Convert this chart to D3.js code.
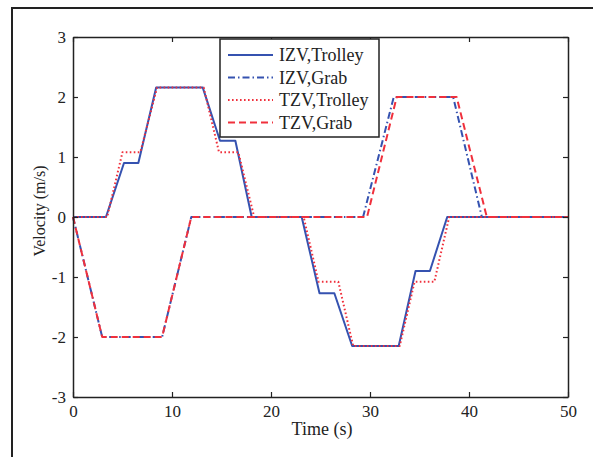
<!DOCTYPE html>
<html>
<head>
<meta charset="utf-8">
<script src="https://cdn.jsdelivr.net/npm/d3@7"></script>
<style>
  html, body { margin: 0; padding: 0; background: #fff; }
  svg { display: block; }
  text { font-family: "Liberation Serif", "Times New Roman", serif; fill: #222; }
</style>
</head>
<body>
<svg id="chart" width="593" height="457"></svg>
<script>
// Velocity profiles (time in s, velocity in m/s)
const izvTrolleyT = [0, 3.33, 5.15, 6.6, 8.4, 13.1, 14.85, 16.4, 18.05, 23.1, 24.9, 26.4, 28.2, 32.9, 34.6, 36.05, 37.8, 50];
const izvTrolleyV = [0, 0, 0.9, 0.9, 2.16, 2.16, 1.27, 1.27, 0, 0, -1.27, -1.27, -2.15, -2.15, -0.9, -0.9, 0, 0];

const izvGrabT = [0, 2.95, 9.0, 11.95, 29.3, 32.4, 38.4, 41.3, 50];
const izvGrabV = [0, -2, -2, 0, 0, 2, 2, 0, 0];

const tzvTrolleyT = [0, 3.45, 5.0, 6.8, 8.5, 13.2, 14.75, 16.7, 18.3, 23.3, 24.8, 26.8, 28.3, 33.0, 34.5, 36.5, 38.0, 50];
const tzvTrolleyV = [0, 0, 1.08, 1.08, 2.16, 2.16, 1.08, 1.08, 0, 0, -1.08, -1.08, -2.15, -2.15, -1.08, -1.08, 0, 0];

const tzvGrabT = [0, 2.95, 9.0, 11.95, 29.7, 32.7, 38.75, 41.8, 50];
const tzvGrabV = [0, -2, -2, 0, 0, 2, 2, 0, 0];

const seriesNames = ["IZV,Trolley", "IZV,Grab", "TZV,Trolley", "TZV,Grab"];
const xTicks = [0, 10, 20, 30, 40, 50];
const yTicks = [-3, -2, -1, 0, 1, 2, 3];

const blue = "#3552b0";
const red = "#f0303c";
const styles = [
  { color: blue, dash: null },
  { color: blue, dash: "7,3,1.5,3" },
  { color: red, dash: "1.6,2.4" },
  { color: red, dash: "7,4" }
];

const series = [
  [izvTrolleyT, izvTrolleyV],
  [izvGrabT, izvGrabV],
  [tzvTrolleyT, tzvTrolleyV],
  [tzvGrabT, tzvGrabV]
].map(([t, v], i) => ({ name: seriesNames[i], pts: t.map((x, j) => [x, v[j]]), style: styles[i] }));

const svg = d3.select("#chart");
const L = 73, R = 568, T = 37, B = 397;

const x = d3.scaleLinear().domain([0, 50]).range([L, R]);
const y = d3.scaleLinear().domain([-3, 3]).range([B, T]);

// plain hyphen for negative tick labels
const fmt = d => String(d);

// figure frame
svg.append("rect")
  .attr("x", 12).attr("y", 8).attr("width", 620).attr("height", 480)
  .attr("fill", "none").attr("stroke", "#222").attr("stroke-width", 2);

// curves
const line = d3.line().x(d => x(d[0])).y(d => y(d[1]));
const plot = svg.append("g");
series.forEach(s => {
  plot.append("path")
    .attr("d", line(s.pts))
    .attr("fill", "none")
    .attr("stroke", s.style.color)
    .attr("stroke-width", 2)
    .attr("stroke-linejoin", "round")
    .attr("stroke-dasharray", s.style.dash);
});

// axes (ticks inward, box on all four sides)
const axisStyle = g => {
  g.select(".domain").attr("stroke", "#222").attr("stroke-width", 1.5);
  g.selectAll(".tick line").attr("stroke", "#222").attr("stroke-width", 1.2);
  g.selectAll("text").attr("font-family", "Liberation Serif").attr("font-size", 17).attr("fill", "#222");
};

svg.append("g").attr("transform", `translate(0,${B})`)
  .call(d3.axisBottom(x).tickValues(xTicks).tickFormat(fmt).tickSizeInner(-5).tickSizeOuter(0).tickPadding(8))
  .call(axisStyle);
svg.append("g").attr("transform", `translate(0,${T})`)
  .call(d3.axisTop(x).tickValues(xTicks).tickFormat("").tickSizeInner(-5).tickSizeOuter(0))
  .call(axisStyle);
svg.append("g").attr("transform", `translate(${L},0)`)
  .call(d3.axisLeft(y).tickValues(yTicks).tickFormat(fmt).tickSizeInner(-5).tickSizeOuter(0).tickPadding(7))
  .call(axisStyle);
svg.append("g").attr("transform", `translate(${R},0)`)
  .call(d3.axisRight(y).tickValues(yTicks).tickFormat("").tickSizeInner(-5).tickSizeOuter(0))
  .call(axisStyle);

// axis labels
svg.append("text")
  .attr("x", 322).attr("y", 435)
  .attr("text-anchor", "middle").attr("font-size", 18)
  .text("Time (s)");
svg.append("text")
  .attr("transform", `translate(45,${(T + B) / 2 - 6}) rotate(-90)`)
  .attr("text-anchor", "middle").attr("font-size", 16)
  .text("Velocity (m/s)");

// legend
const lg = svg.append("g");
lg.append("rect")
  .attr("x", 220).attr("y", 39).attr("width", 159).attr("height", 98)
  .attr("fill", "#fff").attr("stroke", "#222").attr("stroke-width", 1.5);
series.forEach((s, i) => {
  const yy = 55 + i * 22.5;
  lg.append("line")
    .attr("x1", 228).attr("x2", 273).attr("y1", yy).attr("y2", yy)
    .attr("stroke", s.style.color).attr("stroke-width", 2)
    .attr("stroke-dasharray", s.style.dash);
  lg.append("text")
    .attr("x", 279).attr("y", yy + 6)
    .attr("font-size", 18)
    .text(s.name);
});
</script>
</body>
</html>
